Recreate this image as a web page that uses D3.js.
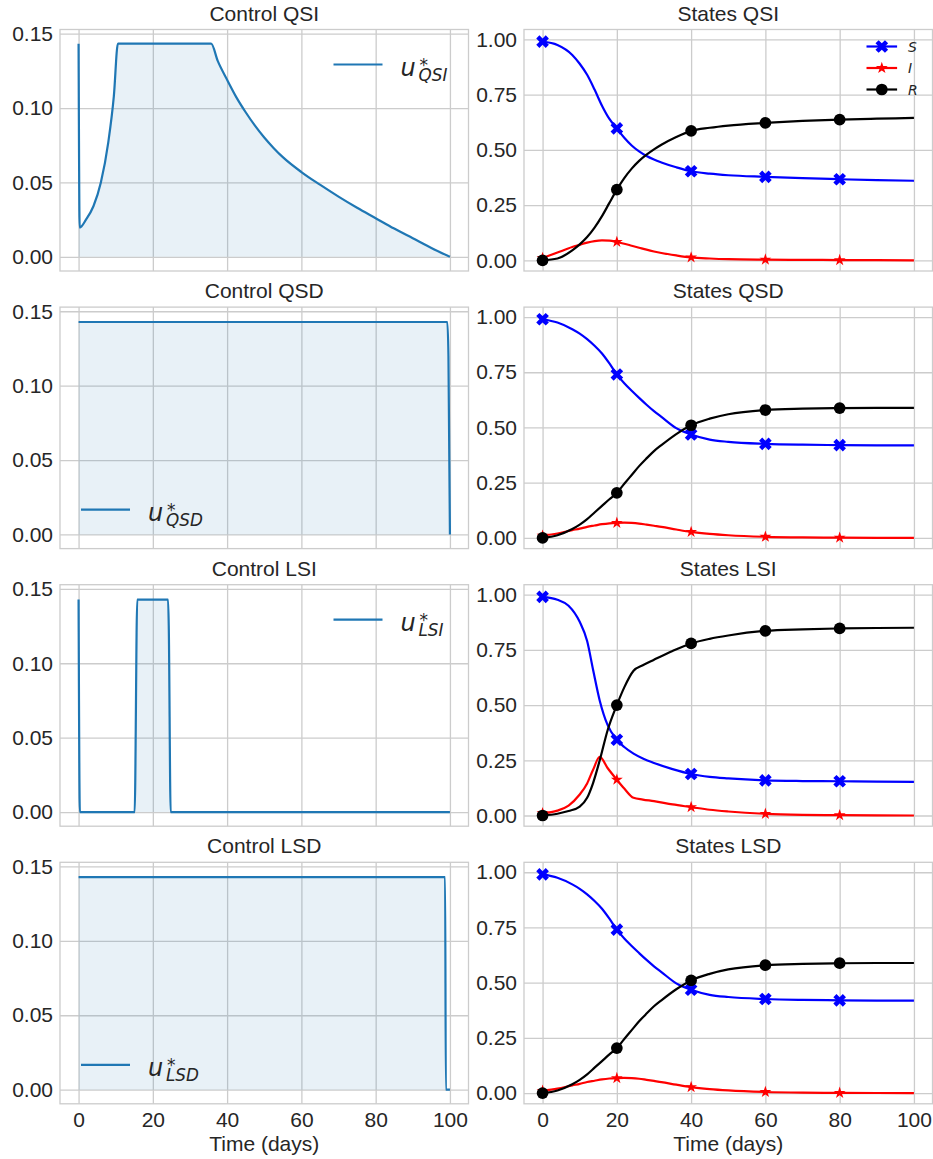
<!DOCTYPE html>
<html>
<head>
<meta charset="utf-8">
<script src="https://cdn.jsdelivr.net/npm/d3@7"></script>
<style>
  body { margin: 0; background: #fff; }
  svg text { font-family: "Liberation Sans", Arial, sans-serif; fill: #262626; }
  .grid line { stroke: #cccccc; stroke-width: 1.3; }
  .grid path { display: none; }
  .math { font-family: "DejaVu Sans", sans-serif; font-style: italic; }
</style>
</head>
<body>
<svg id="fig" width="933" height="1159"></svg>
<script>
"use strict";

// ticks
const xTicks = [0, 20, 40, 60, 80, 100];
const controlTicks = [0, 0.05, 0.10, 0.15];
const stateTicks = [0, 0.25, 0.50, 0.75, 1.00];
const markerDays = [0, 20, 40, 60, 80];

// controls u*(t)
const qsiDays = [0, 0.3, 2, 4, 6, 8, 9.5, 10.6, 35.7, 37.5, 40, 42.5, 45, 47.5, 50, 52.5, 55, 60, 65, 70, 75, 80, 85, 90, 95, 100];
const qsiU = [0.1433, 0.0197, 0.025, 0.034, 0.05, 0.077, 0.108, 0.1433, 0.1433, 0.1315, 0.119, 0.1072, 0.0972, 0.0882, 0.0802, 0.0732, 0.067, 0.057, 0.0485, 0.0405, 0.033, 0.026, 0.019, 0.0125, 0.006, 0];
const qsdDays = [0, 99.3, 99.6, 100];
const qsdU = [0.1428, 0.1428, 0.12, 0];
const lsiDays = [0, 0.35, 15.1, 15.8, 24.1, 24.3, 24.8, 100];
const lsiU = [0.1428, 0, 0, 0.1428, 0.1428, 0.123, 0, 0];
const lsdDays = [0, 98.7, 98.9, 100];
const lsdU = [0.1428, 0.1428, 0, 0];

// states S, I, R
const stateDays = [0, 4, 8, 10, 12, 14, 16, 18, 20, 22, 24, 26, 28, 30, 32, 36, 40, 45, 50, 60, 70, 80, 90, 100];
const qsiS = [0.99, 0.975, 0.93, 0.89, 0.84, 0.773, 0.70, 0.64, 0.597, 0.555, 0.52, 0.493, 0.472, 0.456, 0.443, 0.421, 0.403, 0.392, 0.385, 0.378, 0.372, 0.367, 0.363, 0.360];
const qsiI = [0.01, 0.035, 0.06, 0.07, 0.08, 0.087, 0.09, 0.089, 0.083, 0.075, 0.066, 0.057, 0.048, 0.04, 0.033, 0.022, 0.013, 0.008, 0.005, 0.003, 0.002, 0.001, 0.0005, 0];
const qsiR = [0, 0.008, 0.045, 0.072, 0.105, 0.148, 0.20, 0.26, 0.32, 0.372, 0.415, 0.45, 0.478, 0.502, 0.523, 0.558, 0.586, 0.60, 0.61, 0.622, 0.631, 0.637, 0.641, 0.645];

const qsdS = [0.99, 0.975, 0.945, 0.925, 0.90, 0.87, 0.835, 0.79, 0.74, 0.70, 0.666, 0.634, 0.603, 0.574, 0.548, 0.497, 0.468, 0.445, 0.435, 0.426, 0.422, 0.42, 0.419, 0.419];
const qsdI = [0.01, 0.02, 0.035, 0.042, 0.05, 0.056, 0.062, 0.066, 0.068, 0.069, 0.068, 0.065, 0.06, 0.055, 0.05, 0.038, 0.027, 0.018, 0.012, 0.005, 0.002, 0.001, 0.0005, 0];
const qsdR = [0, 0.012, 0.04, 0.06, 0.085, 0.115, 0.145, 0.175, 0.204, 0.245, 0.285, 0.325, 0.36, 0.393, 0.42, 0.47, 0.51, 0.54, 0.56, 0.579, 0.585, 0.588, 0.589, 0.589];

const lsiStateDays = [0, 4, 7, 10, 12, 13.6, 15.4, 17.5, 20, 22, 24.5, 27, 30, 35, 40, 45, 50, 60, 70, 80, 90, 100];
const lsiS = [0.99, 0.977, 0.95, 0.877, 0.79, 0.66, 0.52, 0.41, 0.343, 0.31, 0.28, 0.258, 0.238, 0.21, 0.188, 0.175, 0.168, 0.159, 0.156, 0.155, 0.153, 0.152];
const lsiI = [0.01, 0.022, 0.045, 0.095, 0.145, 0.207, 0.265, 0.215, 0.162, 0.122, 0.08, 0.072, 0.065, 0.05, 0.038, 0.026, 0.018, 0.0075, 0.003, 0.0015, 0.0005, 0];
const lsiR = [0, 0.008, 0.02, 0.04, 0.08, 0.147, 0.25, 0.385, 0.50, 0.58, 0.655, 0.68, 0.705, 0.745, 0.779, 0.80, 0.815, 0.836, 0.843, 0.847, 0.849, 0.85];

const lsdS = qsdS.slice();
const lsdI = qsdI.slice();
const lsdR = qsdR.slice();

const zip = (t, v) => t.map((d, i) => ({ t: d, v: v[i] }));

const controls = [
  { title: "Control QSI", sub: "QSI", loc: "upper", data: zip(qsiDays, qsiU) },
  { title: "Control QSD", sub: "QSD", loc: "lower", data: zip(qsdDays, qsdU) },
  { title: "Control LSI", sub: "LSI", loc: "upper", data: zip(lsiDays, lsiU) },
  { title: "Control LSD", sub: "LSD", loc: "lower", data: zip(lsdDays, lsdU) }
];
const states = [
  { title: "States QSI", t: stateDays, S: qsiS, I: qsiI, R: qsiR },
  { title: "States QSD", t: stateDays, S: qsdS, I: qsdI, R: qsdR },
  { title: "States LSI", t: lsiStateDays, S: lsiS, I: lsiI, R: lsiR },
  { title: "States LSD", t: stateDays, S: lsdS, I: lsdI, R: lsdR }
];

const series = [
  { key: "S", color: "#0000ff", symbol: d3.symbol(d3.symbolCross).size(100), rot: 45 },
  { key: "I", color: "#ff0000", symbol: d3.symbol(d3.symbolStar).size(44), rot: 0 },
  { key: "R", color: "#000000", symbol: d3.symbol(d3.symbolCircle).size(108), rot: 0 }
];

// layout
const colLeft = [60, 524];
const axW = 408.5;
const axH = 241.5;
const rowTop = i => 29.5 + i * 277.6;
const fontPx = "21px";

const svg = d3.select("#fig");

function frame(g, x, y, ticks, fmt, showX, title) {
  g.append("g").attr("class", "grid")
    .call(d3.axisBottom(x).tickValues(xTicks).tickSize(axH).tickFormat(""));
  g.append("g").attr("class", "grid")
    .call(d3.axisLeft(y).tickValues(ticks).tickSize(-axW).tickFormat(""));

  const yAx = g.append("g")
    .call(d3.axisLeft(y).tickValues(ticks).tickSize(0).tickPadding(7).tickFormat(fmt));
  yAx.select(".domain").remove();
  yAx.selectAll("text").style("font-size", fontPx).attr("fill", "#262626");

  if (showX) {
    const xAx = g.append("g").attr("transform", "translate(0," + axH + ")")
      .call(d3.axisBottom(x).tickValues(xTicks).tickSize(0).tickPadding(8.5));
    xAx.select(".domain").remove();
    xAx.selectAll("text").style("font-size", fontPx).attr("fill", "#262626");
    g.append("text")
      .attr("x", axW / 2).attr("y", axH + 47)
      .attr("text-anchor", "middle").style("font-size", fontPx)
      .text("Time (days)");
  }

  g.append("text")
    .attr("x", axW / 2).attr("y", -9)
    .attr("text-anchor", "middle").style("font-size", fontPx)
    .text(title);
}

function border(g) {
  g.append("rect")
    .attr("width", axW).attr("height", axH)
    .attr("fill", "none").attr("stroke", "#cccccc").attr("stroke-width", 1.3);
}

controls.forEach((c, i) => {
  const g = svg.append("g").attr("transform", "translate(" + colLeft[0] + "," + rowTop(i) + ")");
  const x = d3.scaleLinear().domain([-5, 105]).range([0, axW]);
  const y = d3.scaleLinear().domain([-0.0095, 0.1528]).range([axH, 0]);
  frame(g, x, y, controlTicks, d3.format(".2f"), i === 3, c.title);

  g.append("path").datum(c.data)
    .attr("fill", "rgba(31,119,180,0.1)")
    .attr("d", d3.area().x(d => x(d.t)).y0(y(0)).y1(d => y(d.v)).curve(d3.curveMonotoneX));
  g.append("path").datum(c.data)
    .attr("fill", "none").attr("stroke", "#1f77b4").attr("stroke-width", 2.2)
    .attr("d", d3.line().x(d => x(d.t)).y(d => y(d.v)).curve(d3.curveMonotoneX));
  border(g);

  // legend
  const lx = c.loc === "upper" ? axW - 135 : 21;
  const ly = c.loc === "upper" ? 35 : axH - 39;
  const lg = g.append("g").attr("transform", "translate(" + lx + "," + ly + ")");
  lg.append("line").attr("x1", 0).attr("x2", 49)
    .attr("stroke", "#1f77b4").attr("stroke-width", 2.2);
  const t = lg.append("text").attr("class", "math").attr("x", 67).attr("y", 11.5)
    .style("font-size", "24px");
  t.append("tspan").text("u");
  t.append("tspan").attr("dx", 3.8).attr("dy", -5)
    .style("font-size", "17px").style("font-style", "normal").text("*");
  t.append("tspan").attr("dx", -9.5).attr("dy", 9.5)
    .style("font-size", "16.8px").text(c.sub);
});

states.forEach((s, i) => {
  const g = svg.append("g").attr("transform", "translate(" + colLeft[1] + "," + rowTop(i) + ")");
  const x = d3.scaleLinear().domain([-5, 105]).range([0, axW]);
  const y = d3.scaleLinear().domain([-0.0485, 1.045]).range([axH, 0]);
  frame(g, x, y, stateTicks, d3.format(".2f"), i === 3, s.title);

  const line = d3.line().x(d => x(d.t)).y(d => y(d.v)).curve(d3.curveMonotoneX);
  series.forEach(se => {
    const data = zip(s.t, s[se.key]);
    g.append("path").datum(data)
      .attr("fill", "none").attr("stroke", se.color).attr("stroke-width", 2.2)
      .attr("d", line);
    g.selectAll(".m" + se.key)
      .data(data.filter(d => markerDays.includes(d.t)))
      .enter().append("path")
      .attr("transform", d => "translate(" + x(d.t) + "," + y(d.v) + ") rotate(" + se.rot + ")")
      .attr("d", se.symbol())
      .attr("fill", se.color);
  });
  border(g);

  if (i === 0) {
    const lg = g.append("g").attr("transform", "translate(" + (axW - 66) + ",17)");
    series.forEach((se, k) => {
      const e = lg.append("g").attr("transform", "translate(0," + (k * 21.5) + ")");
      e.append("line").attr("x1", 0).attr("x2", 30.6)
        .attr("stroke", se.color).attr("stroke-width", 2.2);
      e.append("path").attr("d", se.symbol())
        .attr("transform", "translate(15.3,0) rotate(" + se.rot + ")")
        .attr("fill", se.color);
      e.append("text").attr("class", "math")
        .attr("x", 41.5).attr("y", 0).attr("dy", "0.36em")
        .style("font-size", "14px").text(se.key);
    });
  }
});
</script>
</body>
</html>
